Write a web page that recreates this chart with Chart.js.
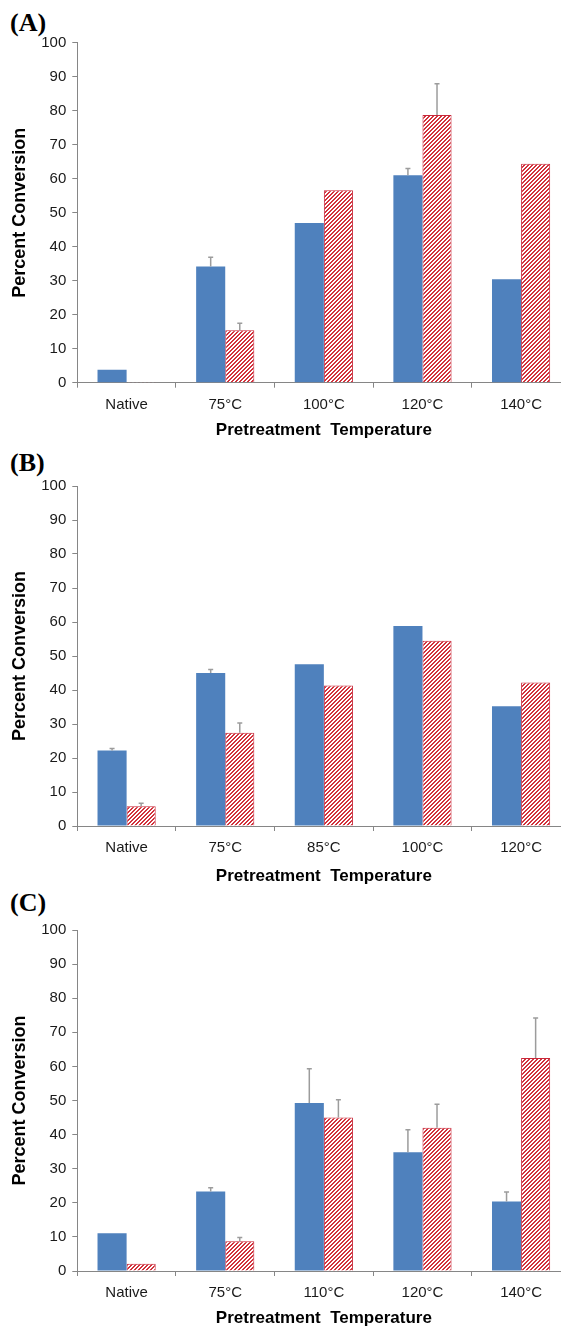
<!DOCTYPE html>
<html>
<head>
<meta charset="utf-8">
<script src="https://cdn.jsdelivr.net/npm/chart.js@4/dist/chart.umd.min.js"></script>
<style>
  html, body { margin: 0; padding: 0; background: #fff; overflow: hidden; width: 561px; height: 1329px; }
  body { position: relative; }
  .panel { position: absolute; left: 0; }
  .tag { position: absolute; left: 10px; font: bold 26px "Liberation Serif", "Times New Roman", serif; line-height: 26px; color: #000; }
</style>
</head>
<body>
<div class="tag" style="top:10px">(A)</div>
<div class="tag" style="top:450px">(B)</div>
<div class="tag" style="top:890px">(C)</div>
<canvas id="chart-a" class="panel" width="572" height="445" style="top:0px"></canvas>
<canvas id="chart-b" class="panel" width="572" height="445" style="top:443px"></canvas>
<canvas id="chart-c" class="panel" width="572" height="442" style="top:887px"></canvas>
<script>
// panel A
const labelsA = ["Native", "75°C", "100°C", "120°C", "140°C"];
const blueA = [3.8, 34.2, 47.0, 61.0, 30.4];
const redA = [0.2, 15.4, 56.6, 78.7, 64.4];
const blueErrA = [null, 2.7, null, 2.0, null];
const redErrA = [null, 2.1, null, 9.2, null];

// panel B
const labelsB = ["Native", "75°C", "85°C", "100°C", "120°C"];
const blueB = [22.2, 45.0, 47.6, 58.8, 35.2];
const redB = [5.8, 27.4, 41.3, 54.5, 42.2];
const blueErrB = [0.6, 1.0, null, null, null];
const redErrB = [0.9, 2.9, null, null, null];

// panel C
const labelsC = ["Native", "75°C", "110°C", "120°C", "140°C"];
const blueC = [11.1, 23.3, 49.3, 34.8, 20.4];
const redC = [2.1, 8.7, 45.0, 42.0, 62.5];
const blueErrC = [null, 1.1, 10.0, 6.6, 2.8];
const redErrC = [null, 1.1, 5.2, 6.9, 11.7];

const yTicks = [0, 10, 20, 30, 40, 50, 60, 70, 80, 90, 100];

const BLUE = "#4F81BD";
const RED = "#D2323C";
const AXIS = "#868686";

// red "wide upward diagonal" hatch
function makeHatch() {
  const tile = document.createElement("canvas");
  tile.width = 4;
  tile.height = 4;
  const tctx = tile.getContext("2d");
  tctx.fillStyle = "#fff";
  tctx.fillRect(0, 0, 4, 4);
  tctx.fillStyle = RED;
  for (let x = 0; x < 4; x++) {
    for (let y = 0; y < 4; y++) {
      if ((x + y) % 4 < 2) tctx.fillRect(x, y, 1, 1);
    }
  }
  return tctx.createPattern(tile, "repeat");
}

const errorBars = {
  id: "errorBars",
  afterDatasetsDraw(chart) {
    const ctx = chart.ctx;
    const yScale = chart.scales.y;
    ctx.save();
    ctx.strokeStyle = "#9c9c9c";
    ctx.lineWidth = 1.5;
    chart.data.datasets.forEach((ds, di) => {
      const meta = chart.getDatasetMeta(di);
      ds.errors.forEach((err, i) => {
        if (err == null) return;
        const bar = meta.data[i];
        const top = yScale.getPixelForValue(ds.data[i] + err);
        ctx.beginPath();
        ctx.moveTo(bar.x, bar.y);
        ctx.lineTo(bar.x, top);
        ctx.moveTo(bar.x - 2.5, top);
        ctx.lineTo(bar.x + 2.5, top);
        ctx.stroke();
      });
    });
    ctx.restore();
  }
};

function makePanel(id, labels, blue, red, blueErr, redErr, box) {
  const canvas = document.getElementById(id);
  return new Chart(canvas, {
    type: "bar",
    data: {
      labels: labels,
      datasets: [
        {
          label: "Series 1",
          data: blue,
          errors: blueErr,
          backgroundColor: BLUE,
          borderColor: BLUE,
          borderWidth: 0,
        },
        {
          label: "Series 2",
          data: red,
          errors: redErr,
          backgroundColor: makeHatch(),
          borderColor: "#C8283A",
          borderWidth: 1,
        },
      ],
    },
    options: {
      responsive: false,
      animation: false,
      layout: { padding: { top: box.top, left: 0, right: 1.6, bottom: 0 } },
      datasets: { bar: { categoryPercentage: 0.59, barPercentage: 1.0 } },
      plugins: { legend: { display: false }, tooltip: { enabled: false } },
      scales: {
        x: {
          grid: { drawOnChartArea: false, drawTicks: true, tickLength: 5, color: AXIS, offset: true },
          border: { color: AXIS, width: 1 },
          ticks: { color: "#1a1a1a", padding: 8, maxRotation: 0, autoSkip: false,
                   font: { family: "'Liberation Sans', Arial, sans-serif", size: 15 } },
          title: { display: true, text: "Pretreatment  Temperature", color: "#000",
                   padding: { top: 0, bottom: box.titlePad },
                   font: { family: "'Liberation Sans', Arial, sans-serif", size: 17, weight: "bold" } },
          afterFit: (scale) => { scale.height = box.xHeight; },
        },
        y: {
          min: 0,
          max: 100,
          grid: { drawOnChartArea: false, drawTicks: true, tickLength: 5, color: AXIS },
          border: { color: AXIS, width: 1 },
          afterBuildTicks: (scale) => { scale.ticks = yTicks.map((v) => ({ value: v })); },
          ticks: { color: "#1a1a1a", padding: 6,
                   font: { family: "'Liberation Sans', Arial, sans-serif", size: 15 } },
          title: { display: true, text: "Percent Conversion", color: "#000",
                   padding: { top: 9, bottom: 0 },
                   font: { family: "'Liberation Sans', Arial, sans-serif", size: 18, weight: "bold" } },
          afterFit: (scale) => { scale.width = 77.3; },
        },
      },
    },
    plugins: [errorBars],
  });
}

makePanel("chart-a", labelsA, blueA, redA, blueErrA, redErrA, { top: 42.7, xHeight: 62.3, titlePad: 4.1 });
makePanel("chart-b", labelsB, blueB, redB, blueErrB, redErrB, { top: 43, xHeight: 62, titlePad: 1.8 });
makePanel("chart-c", labelsC, blueC, redC, blueErrC, redErrC, { top: 43, xHeight: 58, titlePad: 0 });
</script>
</body>
</html>
